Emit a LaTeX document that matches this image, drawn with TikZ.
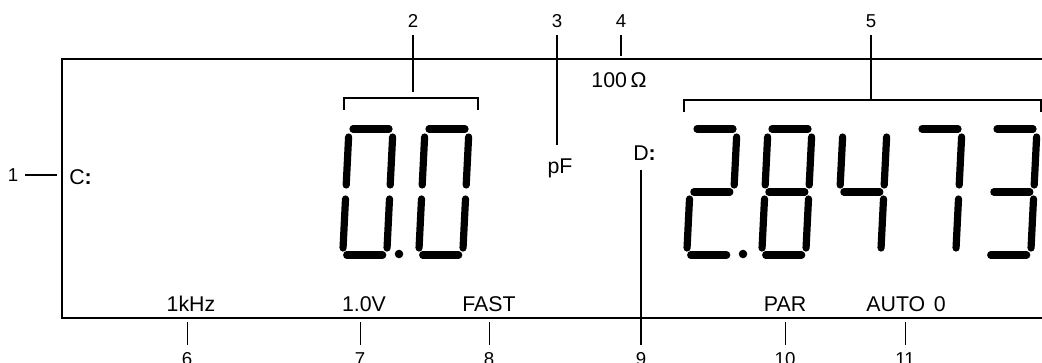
\documentclass[tikz,border=0pt]{standalone}
\usepackage{fontspec}
\setmainfont{Liberation Sans}
\def\lcdsega{(-18,0) -- (18,0)}
\def\lcdsegb{(22,8) -- (22,56)}
\def\lcdsegc{(22,70) -- (22,119)}
\def\lcdsegd{(-18,126) -- (18,126)}
\def\lcdsege{(-22,70) -- (-22,119)}
\def\lcdsegf{(-22,8) -- (-22,56)}
\def\lcdsegg{(-18,63) -- (18,63)}
\newcommand\lcddigit[2]{%
  \begin{scope}[shift={(#1,129)}, xslant=0.05]
    \foreach \s in {#2}{\edef\lcdtmp{\noexpand\draw[seg] \csname lcdseg\s\endcsname;}\lcdtmp}
  \end{scope}}
\begin{document}
\begin{tikzpicture}[x=0.75pt,y=-0.75pt,
  seg/.style={line width=5.4pt, line cap=round},
  frame/.style={line width=1.1pt},
  lead/.style={line width=0.9pt},
  thinlead/.style={line width=0.75pt},
  brk/.style={line width=0.8pt},
  num/.style={font=\fontsize{14}{16}\selectfont, inner sep=0pt, outer sep=5pt},
  disp/.style={font=\fontsize{16}{19}\selectfont, inner sep=0pt}]
\useasboundingbox (0,0) rectangle (1042,363);
% frame
\draw[frame] (1042,59) -- (62,59) -- (62,318) -- (1042,318);
% digits
\lcddigit{371}{a,b,c,d,e,f}
\lcddigit{447}{a,b,c,d,e,f}
\lcddigit{715}{a,b,g,e,d}
\lcddigit{790}{a,b,c,d,e,f,g}
\lcddigit{865}{f,g,b,c}
\lcddigit{940}{a,b,c}
\lcddigit{1015}{a,b,g,c,d}
\fill (399,254) circle (3.2pt);
\fill (743,254) circle (3.2pt);
% brackets
\draw[brk] (344,110) -- (344,98) -- (478,98) -- (478,110);
\draw[brk] (684,112) -- (684,100) -- (1041,100) -- (1041,112);
% display texts
\node[disp, anchor=base west] (Clab) at (69,185) {C{\bfseries:}};
\node[disp, anchor=base] (pF) at (560,174) {pF};
\node[disp, anchor=base west] (Dlab) at (633,161) {D{\bfseries:}};
\node[disp, anchor=base] (ohm) at (619,88) {100\,Ω};
\node[disp, anchor=base] (khz) at (191,311) {1kHz};
\node[disp, anchor=base] (volt) at (364,311) {1.0V};
\node[disp, anchor=base] (fast) at (489,311) {FAST};
\node[disp, anchor=base] (par) at (785,311) {PAR};
\node[disp, anchor=base] (auto) at (906,311) {AUTO\hspace{0.4em}0};
% number labels
\node[num, anchor=base] (n1) at (13,182) {1};
\node[num, anchor=base] (n2) at (413,28) {2};
\node[num, anchor=base] (n3) at (557,28) {3};
\node[num, anchor=base] (n4) at (621,28) {4};
\node[num, anchor=base] (n5) at (871,28) {5};
\node[num, anchor=base] (n6) at (187,365) {6};
\node[num, anchor=base] (n7) at (360,365) {7};
\node[num, anchor=base] (n8) at (489,365) {8};
\node[num, anchor=base] (n9) at (641,365) {9};
\node[num, anchor=base] (n10) at (785,365) {10};
\node[num, anchor=base] (n11) at (905,365) {11};
% leader ends
\coordinate (e1) at (57,175);
\coordinate (e2) at (413,92);
\coordinate (e3) at (557,145);
\coordinate (e4) at (621,56);
\coordinate (e5) at (871,100);
\coordinate (e6) at (187,322);
\coordinate (e7) at (360,322);
\coordinate (e8) at (489,322);
\coordinate (e9) at (641,170);
\coordinate (e10) at (785,322);
\coordinate (e11) at (905,322);
% leaders
\draw[lead] (n1.east |- e1) -- (e1);
\draw[lead] (n2.south) -- (e2);
\draw[lead] (n3.south) -- (e3);
\draw[lead] (n4.south) -- (e4);
\draw[lead] (n5.south) -- (e5);
\draw[thinlead] (e6) -- (n6.north);
\draw[thinlead] (e7) -- (n7.north);
\draw[thinlead] (e8) -- (n8.north);
\draw[lead] (e9) -- (n9.north);
\draw[thinlead] (e10) -- (n10.north);
\draw[thinlead] (e11) -- (n11.north);
\end{tikzpicture}
\end{document}
